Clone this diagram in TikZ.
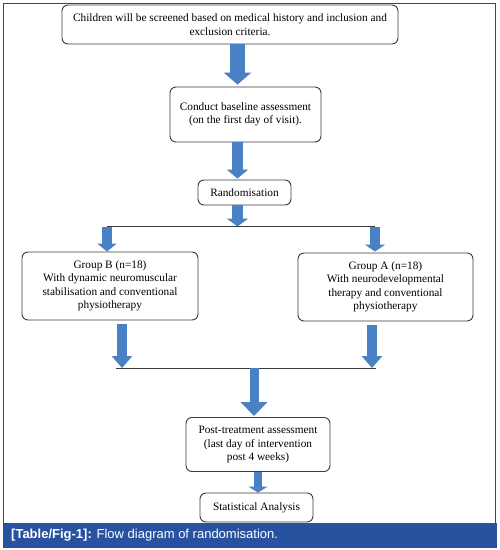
\documentclass[tikz,border=0pt]{standalone}
\usepackage{fontspec}
\setmainfont{Liberation Serif}
\newfontfamily\capfont{Liberation Sans}
\usetikzlibrary{arrows.meta}
\definecolor{frameblue}{HTML}{2C4A6E}
\definecolor{barblue}{HTML}{2852A0}
\definecolor{arrowblue}{HTML}{4A80C4}
\definecolor{boxline}{HTML}{3A3A3A}
\tikzset{
  fbox/.style={draw=boxline, line width=0.9pt, rounded corners=6pt, fill=white,
    align=center, inner sep=0pt, font=\fontsize{11.3}{13.5}\selectfont},
  barrow/.style n args={3}{draw=arrowblue, line width=#1,
    -{Triangle[width=#2,length=#3]}},
  hline/.style={draw=boxline, line width=0.9pt}
}
\begin{document}
\begin{tikzpicture}[x=1pt,y=-1pt]
\useasboundingbox (0,0) rectangle (500,550);
\fill[white] (0,0) rectangle (500,550);
% frame
\draw[frameblue, line width=1.5pt] (3.5,3.5) rectangle (495.5,530);
\fill[barblue] (3,523) rectangle (496.5,548);
\node[anchor=west, text=white, inner sep=0pt, font=\capfont\fontsize{13}{15}\selectfont]
  (cap) at (11,535.5) {\textbf{[Table/Fig-1]:} Flow diagram of randomisation.};

% boxes
\node[fbox, minimum width=336pt, minimum height=39pt] (b1) at (230,24.5)
  {Children will be screened based on medical history and inclusion and\\exclusion criteria.};
\node[fbox, minimum width=151pt, minimum height=55pt] (b2) at (245.5,114.5)
  {Conduct baseline assessment\\(on the first day of visit).};
\node[fbox, minimum width=93pt, minimum height=25pt] (b3) at (244.5,192.5)
  {Randomisation};
\node[fbox, minimum width=176pt, minimum height=68pt] (gb) at (110,286)
  {Group B (n=18)\\With dynamic neuromuscular\\stabilisation and conventional\\physiotherapy};
\node[fbox, minimum width=175pt, minimum height=68pt] (ga) at (385.5,287)
  {Group A (n=18)\\With neurodevelopmental\\therapy and conventional\\physiotherapy};
\node[fbox, minimum width=144pt, minimum height=54pt] (pt) at (258,444.5)
  {Post-treatment assessment\\(last day of intervention\\post 4 weeks)};
\node[fbox, minimum width=113pt, minimum height=29pt] (sa) at (256.5,507.5)
  {Statistical Analysis};

% junction coordinates
\coordinate (s1) at (107,226.5);
\coordinate (s2) at (375,226.5);
\coordinate (m1) at (122,368);
\coordinate (m2) at (372,368);
\coordinate (mc) at (254,368);

% split and merge lines
\draw[hline] (s1) -- (s2);
\draw[hline] ([xshift=-6pt]m1) -- ([xshift=4pt]m2);

% arrows
\draw[barrow={15pt}{27pt}{12pt}] ([xshift=7.5pt]b1.south) -- ([xshift=7.5pt,yshift=2pt]b1.south |- b2.north);
\draw[barrow={11pt}{21pt}{9pt}] ([xshift=-8pt]b2.south) -- ([xshift=-8pt,yshift=1pt]b2.south |- b3.north);
\draw[barrow={11pt}{21pt}{8pt}] ([xshift=-7pt]b3.south) -- ([xshift=-7pt]b3.south |- s1);
\draw[barrow={10pt}{19pt}{8pt}] (s1) -- (s1 |- gb.north);
\draw[barrow={10pt}{20pt}{7pt}] (s2) -- ([yshift=1pt]s2 |- ga.north);
\draw[barrow={10pt}{20pt}{12pt}] ([xshift=12pt,yshift=-4pt]gb.south) -- (m1);
\draw[barrow={10pt}{20pt}{12pt}] ([xshift=-13.5pt,yshift=-4pt]ga.south) -- (m2);
\draw[barrow={9pt}{26pt}{14pt}] (mc) -- ([yshift=1pt]mc |- pt.north);
\draw[barrow={8pt}{19pt}{6pt}] (pt.south) -- (pt.south |- sa.north);
\end{tikzpicture}
\end{document}
